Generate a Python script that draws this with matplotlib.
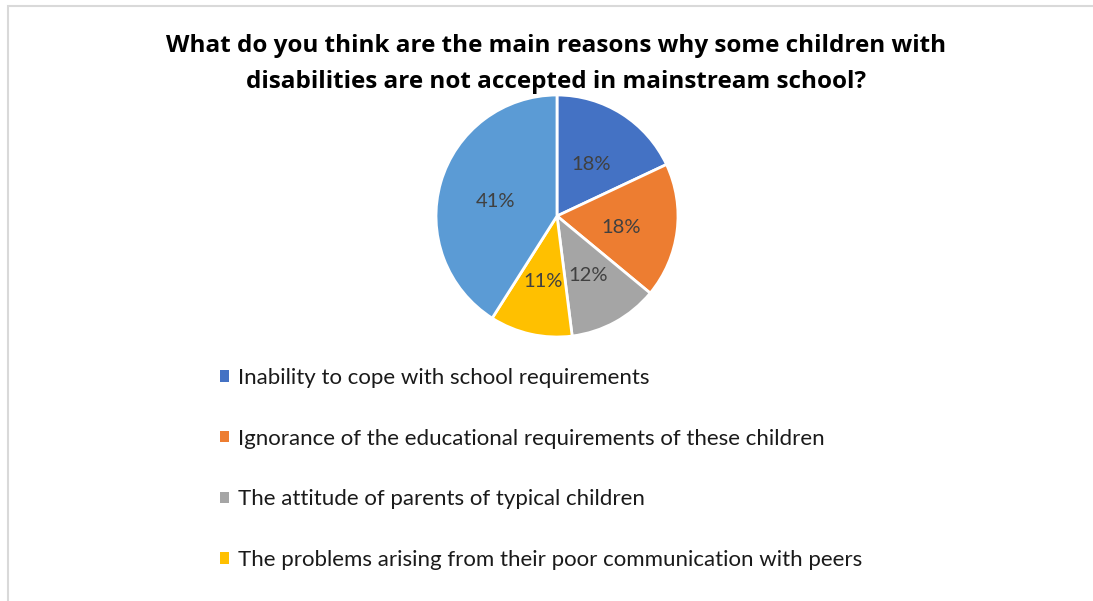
import matplotlib.pyplot as plt
from matplotlib.patches import Rectangle
from matplotlib.transforms import offset_copy

title = ("What do you think are the main reasons why some children with\n"
         "disabilities are not accepted in mainstream school?")

reasons = [
    "Inability to cope with school requirements",
    "Ignorance of the educational requirements of these children",
    "The attitude of parents of typical children",
    "The problems arising from their poor communication with peers",
    "Other reasons",
]
shares = [18, 18, 12, 11, 41]
colors = ["#4472C4", "#ED7D31", "#A5A5A5", "#FFC000", "#5B9BD5"]
shown_in_legend = 4

plt.rcParams['font.family'] = ['Lato', 'DejaVu Sans']

W, H = 1093, 601
fig = plt.figure(figsize=(W / 100, H / 100), dpi=100)
fig.patch.set_facecolor("white")

# light chart-area frame
fig.patches.append(Rectangle((8 / W, -0.1), 1.2, (H - 5.5) / H + 0.1,
                             transform=fig.transFigure, fill=False,
                             edgecolor="#D9D9D9", linewidth=1.5))

fig.text(556 / W, 1 - 64 / H, title, ha="center", va="center",
         fontsize=17.5, fontweight="bold", color="black", linespacing=1.62,
         family=["Open Sans", "DejaVu Sans"])

# pie: centre (557, 216), radius ~121 px
r = 121
cx, cy = 557, 216
ax = fig.add_axes([(cx - r) / W, 1 - (cy + r) / H, 2 * r / W, 2 * r / H])
wedges, texts, autotexts = ax.pie(
    shares, colors=colors, startangle=90, counterclock=False,
    autopct="%1.0f%%", pctdistance=0.53,
    wedgeprops=dict(edgecolor="white", linewidth=2),
    textprops=dict(fontsize=14.5, color="#404040"))
ax.set_xlim(-1, 1)
ax.set_ylim(-1, 1)
ax.set_aspect("equal")
# nudge the percentage labels down a little
for t in autotexts:
    t.set_transform(offset_copy(ax.transData, fig=fig, y=-3, units="dots"))

leg = fig.legend(wedges[:shown_in_legend], reasons[:shown_in_legend],
                 loc="upper left", bbox_to_anchor=(220 / W, 1 - 368 / H),
                 frameon=False, fontsize=16, handlelength=0.4,
                 handleheight=0.4, handletextpad=0.4, labelspacing=1.83,
                 borderpad=0, borderaxespad=0)
for t in leg.get_texts():
    t.set_color("#1a1a1a")
for h in leg.legend_handles:
    h.set_edgecolor("none")

fig.savefig("out.png", dpi=100)
